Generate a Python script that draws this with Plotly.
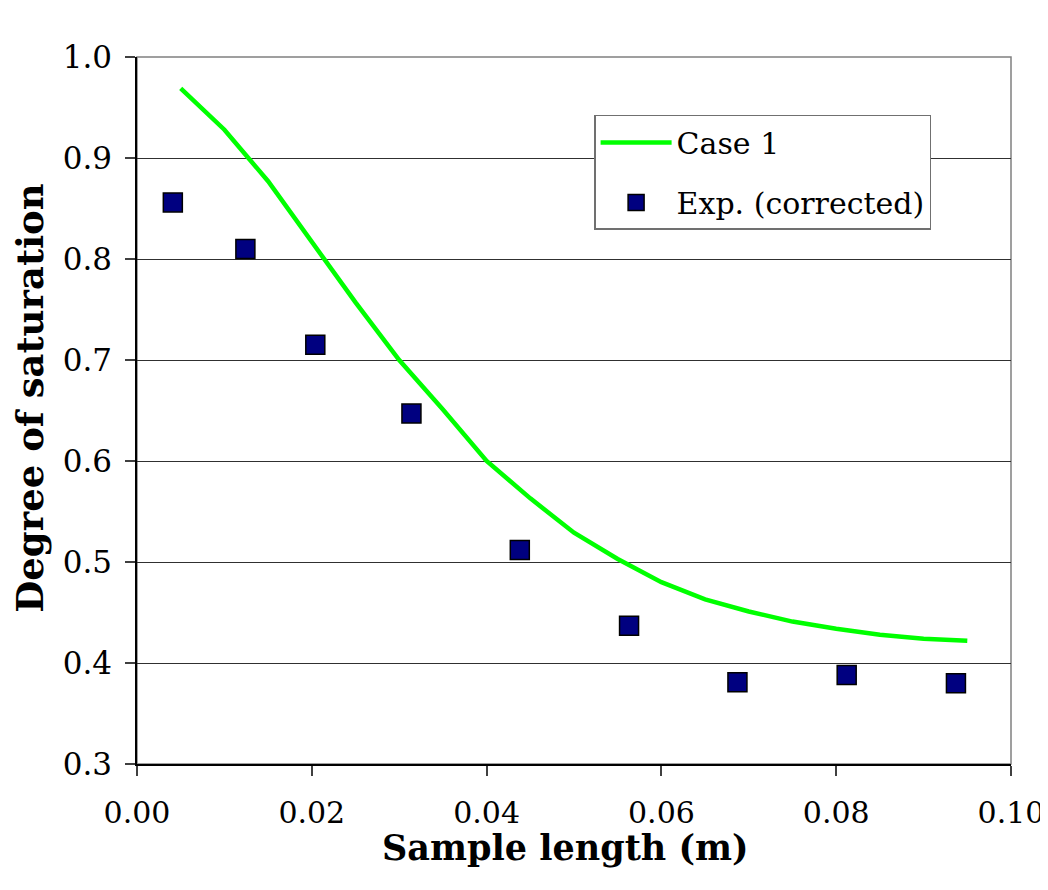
import plotly.graph_objects as go

# Model curve (Case 1)
case1_x = [0.005, 0.010, 0.015, 0.020, 0.025, 0.030, 0.035, 0.040, 0.045, 0.050,
           0.055, 0.060, 0.065, 0.070, 0.075, 0.080, 0.085, 0.090, 0.095]
case1_y = [0.969, 0.928, 0.877, 0.817, 0.757, 0.700, 0.651, 0.600, 0.563, 0.529,
           0.503, 0.480, 0.463, 0.451, 0.441, 0.434, 0.428, 0.424, 0.422]

# Experimental points (corrected)
exp_x = [0.0041, 0.0124, 0.0204, 0.0314, 0.0438, 0.0563, 0.0687, 0.0812, 0.0937]
exp_y = [0.856, 0.810, 0.715, 0.647, 0.512, 0.437, 0.381, 0.388, 0.380]

x_ticks = [0.00, 0.02, 0.04, 0.06, 0.08, 0.10]
x_tick_labels = ["0.00", "0.02", "0.04", "0.06", "0.08", "0.10"]
y_ticks = [0.3, 0.4, 0.5, 0.6, 0.7, 0.8, 0.9, 1.0]
y_tick_labels = ["0.3", "0.4", "0.5", "0.6", "0.7", "0.8", "0.9", "1.0"]

x_title = "Sample length (m)"
y_title = "Degree of saturation"

FONT = "DejaVu Serif, serif"

fig = go.Figure()
fig.add_trace(go.Scatter(
    x=case1_x, y=case1_y, mode="lines", name="Case 1",
    line=dict(color="#00FF00", width=4.5), legendgroup="a",
))
fig.add_trace(go.Scatter(
    x=exp_x, y=exp_y, mode="markers", name="Exp. (corrected)",
    marker=dict(symbol="square", size=19, color="#000080",
                line=dict(color="black", width=1.5)),
    legendgroup="b",
))

# plot-area border (gray)
fig.add_shape(type="rect", xref="x domain", yref="y domain", x0=0, x1=1, y0=0, y1=1,
              line=dict(color="#808080", width=1.5), layer="below")

# axis titles
fig.add_annotation(text="<b>" + x_title + "</b>", xref="paper", yref="paper",
                   x=0.490, y=-0.1175, xanchor="center", yanchor="middle",
                   showarrow=False, font=dict(family=FONT, size=35, color="black"))
fig.add_annotation(text="<b>" + y_title + "</b>", xref="paper", yref="paper",
                   x=-0.1224, y=0.518, xanchor="center", yanchor="middle",
                   textangle=-90,
                   showarrow=False, font=dict(family=FONT, size=37, color="black"))

fig.update_layout(
    width=1048, height=890,
    margin=dict(l=129, r=45, t=49, b=134, autoexpand=False),
    paper_bgcolor="white", plot_bgcolor="white",
    font=dict(family=FONT, size=31, color="black"),
    showlegend=True,
    legend=dict(
        x=0.523, y=0.918, xanchor="left", yanchor="top",
        bgcolor="white", bordercolor="#707070", borderwidth=1.5,
        font=dict(family=FONT, size=30, color="black"),
        tracegroupgap=18, itemwidth=71,
    ),
    xaxis=dict(
        range=[0, 0.10], tickvals=x_ticks, ticktext=x_tick_labels,
        showgrid=False, zeroline=False,
        showline=True, linecolor="black", linewidth=1.5,
        ticks="outside", ticklen=10, tickcolor="#404040", tickwidth=1.5,
        ticklabelstandoff=11,
        tickfont=dict(family=FONT, size=30),
    ),
    yaxis=dict(
        range=[0.3, 1.0], tickvals=y_ticks, ticktext=y_tick_labels,
        showgrid=True, gridcolor="#303030", gridwidth=1.2, zeroline=False,
        showline=True, linecolor="black", linewidth=1.5,
        ticks="outside", ticklen=10, tickcolor="#404040", tickwidth=1.5,
        ticklabelstandoff=7,
        tickfont=dict(family=FONT, size=31),
    ),
)

fig.write_html("out.html")
